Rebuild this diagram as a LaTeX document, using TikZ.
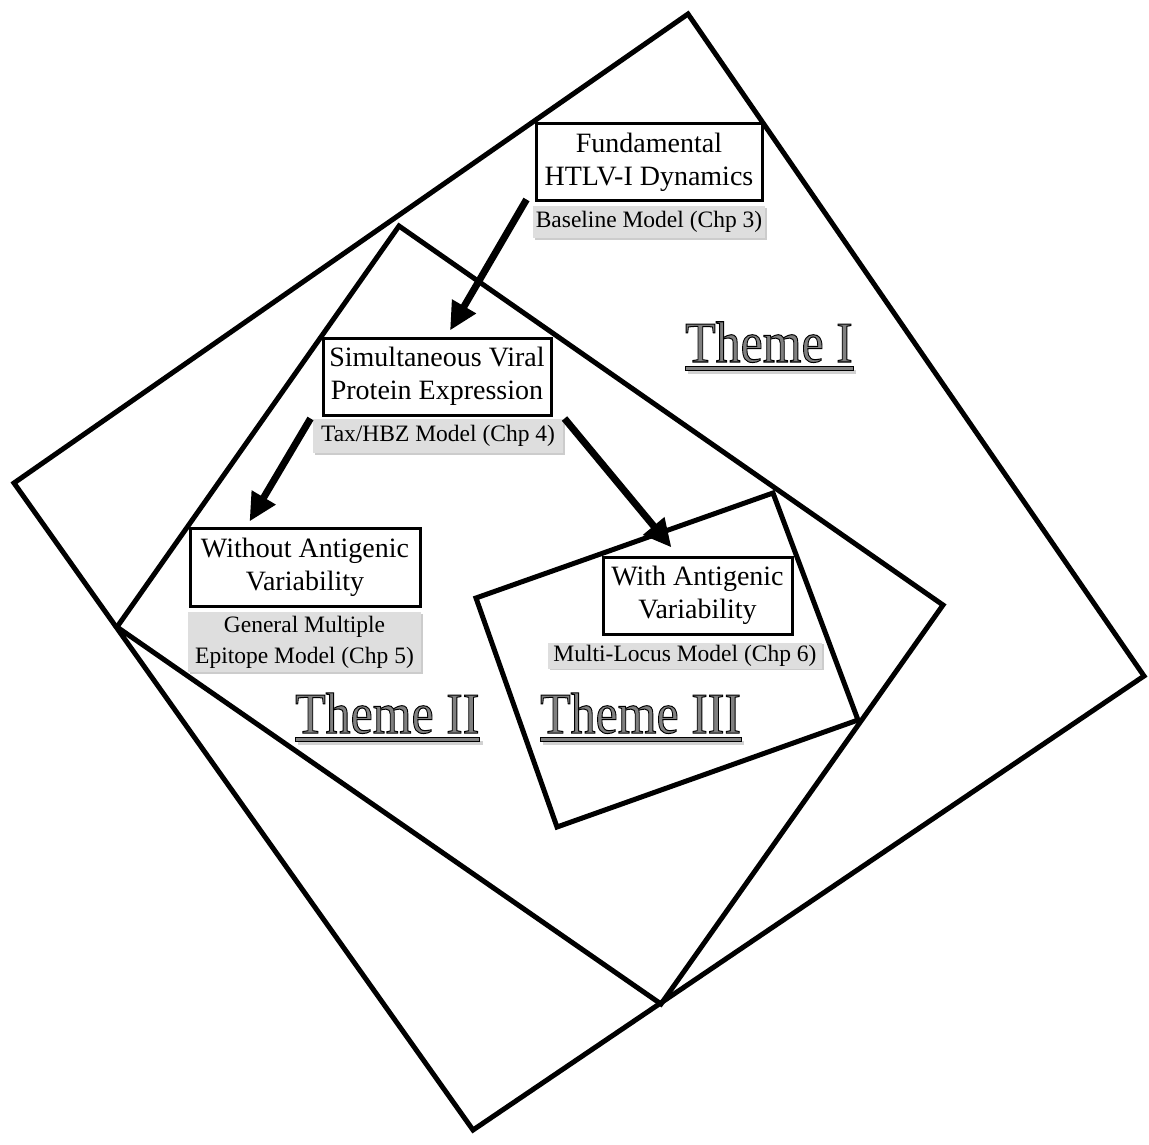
\documentclass[tikz,border=0pt]{standalone}
\usepackage{fontspec}
\setmainfont{Liberation Serif}
\usetikzlibrary{calc,arrows.meta,shadows}

\tikzset{
  frame/.style={line width=5pt, line join=miter},
  topic/.style={draw, line width=3pt, fill=white, align=center, inner sep=0pt,
    font=\fontsize{28}{33}\selectfont},
  model/.style={fill=black!13, align=center, inner sep=0pt,
    font=\fontsize{23.5}{31}\selectfont,
    drop shadow={shadow xshift=1.5pt, shadow yshift=-1.5pt, opacity=0.2, fill=black}},
  flow/.style={line width=7pt, -{Triangle[width=26pt,length=28pt]}},
  themefont/.style={font=\fontsize{58}{58}\selectfont, inner sep=0pt, anchor=base west},
}

% glyphs filled with the current colour and stroked in black
\newcommand\outlinedtext[1]{%
  \special{pdf:literal direct 2 Tr 1 w 0 G}#1\special{pdf:literal direct 0 Tr}}

% outlined grey title with a shadowed, outlined underline
\newcommand\themelabel[4]{%
  \node[themefont, text=black!50] (#1) at (#2,#3) {\scalebox{0.86}[1]{\outlinedtext{#4}}};
  \fill[black!18] ($(#1.base west)+(3,7.5)$) rectangle ($(#1.base east)+(3,11.5)$);
  \draw[line width=0.9pt, fill=black!50] ($(#1.base west)+(0,4.5)$) rectangle ($(#1.base east)+(0,8.5)$);
}

\begin{document}
\begin{tikzpicture}[x=1pt, y=-1pt]
\useasboundingbox (0,0) rectangle (1149,1145);

% nested theme frames
\draw[frame] (688,14) -- (1144,676) -- (473,1130) -- (14,483) -- cycle;
\draw[frame] (399,226) -- (943,605) -- (661,1004) -- (117,627) -- cycle;
\draw[frame] (773,493) -- (858,720) -- (557,827) -- (476,598) -- cycle;

% theme titles
\themelabel{t1}{685}{362}{Theme I}
\themelabel{t2}{295}{733}{Theme II}
\themelabel{t3}{540}{733}{Theme III}

% topics and their models
\node[topic, minimum width=226pt, minimum height=76pt] (fund) at (649,162) {Fundamental\\HTLV-I Dynamics};
\node[model, minimum width=232pt, minimum height=32pt] (fundm) at (649,222) {Baseline Model (Chp 3)};

\node[topic, minimum width=228pt, minimum height=77pt] (sim) at (437,376.5) {Simultaneous Viral\\Protein Expression};
\node[model, minimum width=250pt, minimum height=34pt] (simm) at (438,436) {Tax/HBZ Model (Chp 4)};

\node[topic, minimum width=230pt, minimum height=78pt] (wo) at (305,567) {Without Antigenic\\Variability};
\node[model, minimum width=233pt, minimum height=60pt] (wom) at (304.5,642) {General Multiple\\Epitope Model (Chp 5)};

\node[topic, minimum width=189pt, minimum height=77pt] (wi) at (697.5,595.5) {With Antigenic\\Variability};
\node[model, minimum width=274pt, minimum height=26pt] (wim) at (685,655.5) {Multi-Locus Model (Chp 6)};

% arrow end points
\coordinate (a1s) at ($(fund.south west)+(-8,-2)$);
\coordinate (a1e) at ($(sim.north)+(13,-6)$);
\coordinate (a2s) at ($(sim.south west)+(-11,2)$);
\coordinate (a2e) at ($(wo.north west)+(61,-5)$);
\coordinate (a3s) at ($(sim.south east)+(12,2)$);
\coordinate (a3e) at ($(wi.north west)+(70,-8)$);

\draw[flow] (a1s) -- (a1e);
\draw[flow] (a2s) -- (a2e);
\draw[flow] (a3s) -- (a3e);
\end{tikzpicture}
\end{document}
